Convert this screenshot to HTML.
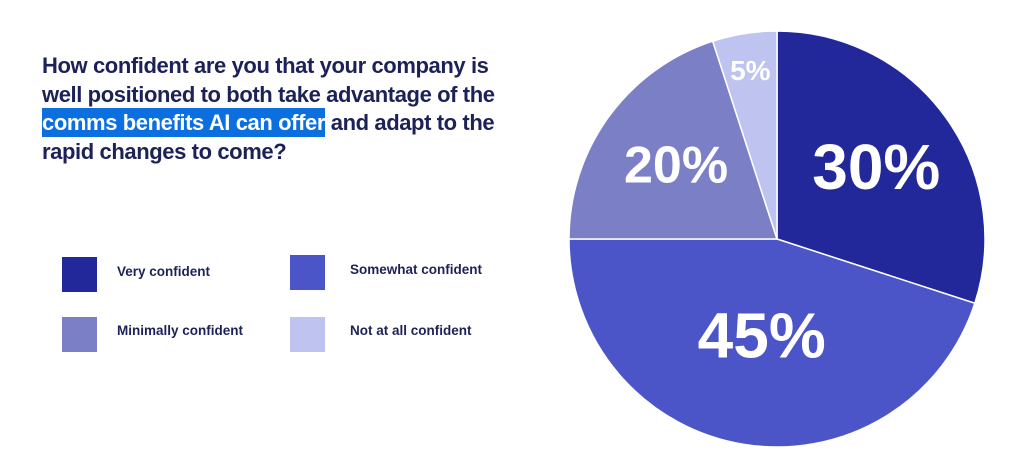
<!DOCTYPE html>
<html><head><meta charset="utf-8"><style>
html,body{margin:0;padding:0;background:#fff;width:1024px;height:475px;overflow:hidden;font-family:"Liberation Sans",sans-serif}
#title{position:absolute;left:42px;top:52px;font-size:22px;font-weight:bold;color:#1c2257;line-height:28.5px;letter-spacing:-0.4px;white-space:nowrap}
#title .hl{background:#0b6fe0;color:#fff;padding:2px 0}
.sw{position:absolute;width:35px;height:35px}
.lt{position:absolute;font-size:13.5px;font-weight:bold;color:#1c2257}
svg{position:absolute;left:0;top:0}
</style></head><body>
<div id="title">How confident are you that your company is<br>well positioned to both take advantage of the<br><span class="hl">comms benefits AI can offer</span> and adapt to the<br>rapid changes to come?</div>
<div class="sw" style="left:62px;top:257px;background:#22289a"></div>
<div class="lt" style="left:117px;top:264px">Very confident</div>
<div class="sw" style="left:290px;top:255px;background:#4b55c8"></div>
<div class="lt" style="left:350px;top:262px">Somewhat confident</div>
<div class="sw" style="left:62px;top:317px;background:#7b7fc6"></div>
<div class="lt" style="left:117px;top:323px">Minimally confident</div>
<div class="sw" style="left:290px;top:317px;background:#bec3ef"></div>
<div class="lt" style="left:350px;top:323px">Not at all confident</div>
<svg id="pie" width="1024" height="475"></svg>
<script>
const categories=["Very confident","Somewhat confident","Minimally confident","Not at all confident"];
const values=[30,45,20,5];
const labels=["30%","45%","20%","5%"];
const colors=["#22289a","#4b55c8","#7b7fc6","#bec3ef"];
const fontSizes=[64,64,52,28];
const labelRadius=[0.59,0.47,0.6,0.82];
const cx=777,cy=239,r=208;
const svg=document.getElementById('pie');
const NS="http://www.w3.org/2000/svg";
const total=values.reduce((a,b)=>a+b,0);
let a0=0;
function pt(a,rr){return [cx+rr*Math.sin(a),cy-rr*Math.cos(a)];}
values.forEach((v,i)=>{
  const a1=a0+v/total*2*Math.PI;
  const p0=pt(a0,r),p1=pt(a1,r);
  const large=(a1-a0)>Math.PI?1:0;
  const path=document.createElementNS(NS,'path');
  path.setAttribute('d',`M${cx},${cy}L${p0[0]},${p0[1]}A${r},${r} 0 ${large} 1 ${p1[0]},${p1[1]}Z`);
  path.setAttribute('fill',colors[i]);
  path.setAttribute('stroke','#fff');
  path.setAttribute('stroke-width','1.5');
  
  
  svg.appendChild(path);
  const mid=(a0+a1)/2;
  const lp=pt(mid,r*labelRadius[i]);
  const t=document.createElementNS(NS,'text');
  t.setAttribute('x',lp[0]);
  t.setAttribute('y',lp[1]);
  t.setAttribute('text-anchor','middle');
  t.setAttribute('dominant-baseline','central');
  t.setAttribute('fill','#fff');
  t.setAttribute('font-weight','bold');
  t.setAttribute('font-size',fontSizes[i]);
  t.setAttribute('font-family','Liberation Sans, sans-serif');
  
  
  t.textContent=labels[i];
  svg.appendChild(t);
  a0=a1;
});
</script>
</body></html>
